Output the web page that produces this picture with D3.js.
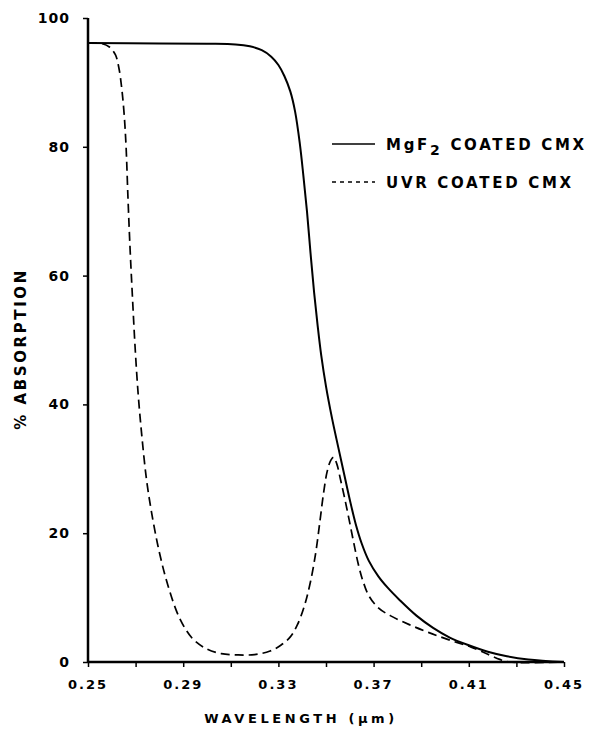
<!DOCTYPE html>
<html><head><meta charset="utf-8">
<script src="https://cdn.jsdelivr.net/npm/d3@7"></script>
<style>body{margin:0;background:#fff}svg{display:block}</style>
</head><body>
<svg id="c" width="591" height="739"></svg>
<script>
// Data
const xTicks = [0.25, 0.29, 0.33, 0.37, 0.41, 0.45];
const xMinorTicks = [0.25,0.27,0.29,0.31,0.33,0.35,0.37,0.39,0.41,0.43,0.45];
const yTicks = [0, 20, 40, 60, 80, 100];
const seriesNames = ["MgF", "UVR COATED CMX"];

const mgf2 = [
 [0.250,96.1],[0.280,96.05],[0.300,96.0],[0.312,95.9],[0.318,95.6],[0.323,95.0],
 [0.327,94.0],[0.330,92.7],[0.3325,91.0],[0.335,88.6],[0.337,85.5],[0.339,80.5],
 [0.3405,75.5],[0.342,70.0],[0.3435,63.5],[0.345,57.4],[0.3465,52.2],[0.348,47.6],
 [0.350,42.8],[0.3525,37.9],[0.355,33.6],[0.3575,29.4],[0.360,25.2],[0.3625,21.4],
 [0.365,18.4],[0.368,15.7],[0.372,13.3],[0.376,11.5],[0.381,9.6],[0.388,7.2],
 [0.395,5.3],[0.402,3.8],[0.410,2.6],[0.418,1.6],[0.426,0.9],[0.435,0.4],[0.450,0.0]
];
const uvr = [
 [0.250,96.1],[0.256,96.0],[0.259,95.5],[0.2615,94.3],[0.263,92.2],[0.2642,89.0],
 [0.2652,85.0],[0.266,80.0],[0.2668,72.0],[0.2677,64.0],[0.2687,56.5],[0.2698,48.8],
 [0.2711,41.5],[0.2727,34.8],[0.2747,28.0],[0.2772,22.2],[0.2800,17.0],[0.2835,12.0],
 [0.2885,6.8],[0.2940,3.6],[0.3000,2.0],[0.3060,1.3],[0.3130,1.1],[0.3200,1.15],
 [0.3265,1.7],[0.3310,2.6],[0.3350,3.9],[0.3380,5.8],[0.3410,8.8],[0.3435,12.5],
 [0.3457,17.0],[0.3475,22.0],[0.3490,26.3],[0.3505,29.6],[0.3520,31.3],[0.3532,31.8],
 [0.3545,30.8],[0.3560,28.5],[0.3578,25.5],[0.3596,22.3],[0.3615,18.8],[0.3635,15.3],
 [0.3655,12.6],[0.3680,10.3],[0.3720,8.4],[0.3770,7.2],[0.3850,5.8],[0.3930,4.6],
 [0.4020,3.4],[0.4110,2.3],[0.4180,1.2],[0.4230,0.4],[0.4270,0.0],[0.4500,0.0]
];

const svg = d3.select("#c");
const x = d3.scaleLinear().domain([0.25, 0.45]).range([88, 564]);
const y = d3.scaleLinear().domain([0, 100]).range([662, 18]);
const font = "'DejaVu Sans', Arial, sans-serif";

// x axis
const gx = svg.append("g").attr("transform", `translate(0,${y(0)})`)
  .call(d3.axisBottom(x).tickValues(xMinorTicks).tickSize(5).tickFormat(""));
gx.select(".domain").attr("stroke","#000").attr("stroke-width",2.5).attr("d", `M${x(0.25)},0H${x(0.45)}`);
gx.selectAll(".tick line").attr("stroke","#000").attr("stroke-width",1.5);
svg.append("g").selectAll("text").data(xTicks).join("text")
  .attr("x", d => x(d)).attr("y", 689).attr("text-anchor","middle")
  .attr("font-family", font).attr("font-weight","bold").attr("font-size",13)
  .attr("letter-spacing",2).text(d => d.toFixed(2));

// y axis
const gy = svg.append("g").attr("transform", `translate(${x(0.25)},0)`)
  .call(d3.axisLeft(y).tickValues(yTicks).tickSize(5).tickFormat(""));
gy.select(".domain").attr("stroke","#000").attr("stroke-width",2.5).attr("d", `M0,${y(100)}V${y(0)}`);
gy.selectAll(".tick line").attr("stroke","#000").attr("stroke-width",1.5);
svg.append("g").selectAll("text").data(yTicks).join("text")
  .attr("x", 70).attr("y", d => y(d) + 5).attr("text-anchor","end")
  .attr("font-family", font).attr("font-weight","bold").attr("font-size",14)
  .attr("letter-spacing",1).text(d => d);

// axis titles
svg.append("text").attr("x", 301).attr("y", 723).attr("text-anchor","middle")
  .attr("font-family", font).attr("font-size",13).attr("letter-spacing",3.6)
  .attr("font-weight","600").text("WAVELENGTH (\u03bcm)");
svg.append("text").attr("transform","translate(26,349) rotate(-90)").attr("text-anchor","middle")
  .attr("font-family", font).attr("font-weight","bold").attr("font-size",15)
  .attr("letter-spacing",2.6).text("% ABSORPTION");

// curves
const line = d3.line().x(d => x(d[0])).y(d => y(d[1])).curve(d3.curveCatmullRom.alpha(0.5));
svg.append("path").datum(mgf2).attr("d", line).attr("fill","none")
  .attr("stroke","#000").attr("stroke-width",2);
svg.append("path").datum(uvr).attr("d", line).attr("fill","none")
  .attr("stroke","#000").attr("stroke-width",1.7).attr("stroke-dasharray","9,5");

// legend
const leg = svg.append("g");
const ly = [144, 182];
leg.selectAll("line").data(seriesNames).join("line")
  .attr("x1",332).attr("x2",375).attr("y1",(d,i)=>ly[i]).attr("y2",(d,i)=>ly[i])
  .attr("stroke","#000").attr("stroke-width",1.3)
  .attr("stroke-dasharray",(d,i)=> i ? "4,4" : null);
const t1 = leg.append("text").attr("x",386).attr("y",ly[0]+6)
  .attr("font-family", font).attr("font-weight","bold").attr("font-size",15)
  .attr("letter-spacing",2.7);
t1.append("tspan").text(seriesNames[0]);
t1.append("tspan").attr("dy",5).attr("font-size",14).text("2");
t1.append("tspan").attr("dy",-5).text(" COATED CMX");
leg.append("text").attr("x",386).attr("y",ly[1]+6)
  .attr("font-family", font).attr("font-weight","bold").attr("font-size",15)
  .attr("letter-spacing",2.7).text(seriesNames[1]);
</script>
</body></html>
